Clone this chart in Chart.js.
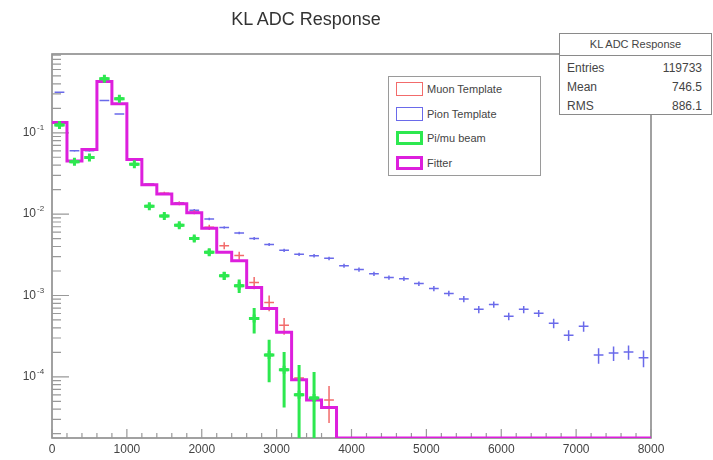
<!DOCTYPE html>
<html>
<head>
<meta charset="utf-8">
<title>KL ADC Response</title>
<script src="https://cdn.jsdelivr.net/npm/chart.js@4.4.1/dist/chart.umd.min.js"></script>
<style>
  html, body { margin: 0; padding: 0; background: #fff; }
  body { width: 713px; height: 460px; position: relative; overflow: hidden;
         font-family: 'Liberation Sans', Arial, Helvetica, sans-serif; color: #333; }
  #plot { position: absolute; left: 0; top: 0; }
  #title { position: absolute; left: 206px; top: 9px; width: 200px; text-align: center;
           font-size: 18px; color: #333; }
  #stats { position: absolute; left: 559px; top: 33px; width: 151px; height: 80px;
           border: 1px solid #8a8a8a; background: #fff; font-size: 12px; color: #444; }
  #stats .head { height: 21px; line-height: 20px; text-align: center; font-size: 11px;
                 border-bottom: 1px solid #8a8a8a; }
  #stats .row { display: flex; justify-content: space-between; padding: 0 9px 0 7px;
                height: 19px; line-height: 19px; }
  #legend { position: absolute; left: 388px; top: 76px; width: 151px; height: 98px;
            border: 1px solid #9a9a9a; background: #fff; font-size: 11px; color: #444; }
  #legend .item { position: relative; height: 24.5px; }
  #legend .sw { position: absolute; left: 7px; top: 5px; width: 27px; height: 14px; box-sizing: border-box; }
  #legend .lb { position: absolute; left: 38px; top: 0; line-height: 24px; }
</style>
</head>
<body>
<canvas id="plot" width="713" height="460"></canvas>
<div id="title">KL ADC Response</div>
<div id="legend"></div>
<div id="stats">
  <div class="head">KL ADC Response</div>
  <div class="row" style="margin-top:3px"><span>Entries</span><span>119733</span></div>
  <div class="row"><span>Mean</span><span>746.5</span></div>
  <div class="row"><span>RMS</span><span>886.1</span></div>
</div>
<script>
// 40 bins of 200 ADC counts, 0 - 8000
const BIN_CENTERS = [100, 300, 500, 700, 900, 1100, 1300, 1500, 1700, 1900,
  2100, 2300, 2500, 2700, 2900, 3100, 3300, 3500, 3700, 3900,
  4100, 4300, 4500, 4700, 4900, 5100, 5300, 5500, 5700, 5900,
  6100, 6300, 6500, 6700, 6900, 7100, 7300, 7500, 7700, 7900];
const BIN_HALF = 100;

// Fitter (step histogram)
const FITTER = [0.134, 0.045, 0.0625, 0.426, 0.227, 0.047, 0.023, 0.0177, 0.0134, 0.0104,
  0.0067, 0.0034, 0.00267, 0.00125, 0.00069, 0.000354, 0.000092, 0.000052, 0.000042, 0,
  0, 0, 0, 0, 0, 0, 0, 0, 0, 0,
  0, 0, 0, 0, 0, 0, 0, 0, 0, 0];

// Muon Template
const MUON = [0.13, 0.045, 0.062, 0.43, 0.225, 0.047, 0.0232, 0.018, 0.0136, 0.0106,
  0.0069, 0.0041, 0.0031, 0.00144, 0.00082, 0.00043, 0.000097, 0.000055, 0.000052, 0,
  0, 0, 0, 0, 0, 0, 0, 0, 0, 0,
  0, 0, 0, 0, 0, 0, 0, 0, 0, 0];
const MUON_ERR = [0.003, 0.0015, 0.0017, 0.005, 0.004, 0.0015, 0.0009, 0.0008, 0.0007, 0.0006,
  0.0005, 0.0004, 0.00035, 0.00025, 0.00018, 0.0001, 0.00004, 0.000035, 0.000025, 0,
  0, 0, 0, 0, 0, 0, 0, 0, 0, 0,
  0, 0, 0, 0, 0, 0, 0, 0, 0, 0];

// Pion Template
const PION = [0.316, 0.06, 0.06, 0.25, 0.17, 0.046, 0.0235, 0.0178, 0.0138, 0.0112,
  0.0087, 0.00684, 0.00586, 0.00502, 0.00424, 0.00359, 0.00321, 0.00308, 0.00286, 0.00232,
  0.00208, 0.00185, 0.00166, 0.00161, 0.0014, 0.00122, 0.00106, 0.000906, 0.000675, 0.000776,
  0.000555, 0.000675, 0.000603, 0.000456, 0.000325, 0.000419, 0.000185, 0.000196, 0.000202, 0.000171];
const PION_ERR = [0.004, 0.0015, 0.0015, 0.004, 0.003, 0.0012, 0.0007, 0.0005, 0.0004, 0.0004,
  0.0003, 0.00025, 0.00022, 0.0002, 0.00018, 0.00016, 0.00015, 0.00015, 0.00014, 0.00013,
  0.00012, 0.00011, 0.0001, 0.0001, 0.00009, 0.00009, 0.00008, 0.00008, 0.00007, 0.00007,
  0.00006, 0.00007, 0.00006, 0.00006, 0.00005, 0.00006, 0.00004, 0.00004, 0.00004, 0.00004];

// Pi/mu beam
const BEAM = [0.125, 0.044, 0.0496, 0.46, 0.262, 0.041, 0.0125, 0.0095, 0.0073, 0.005,
  0.0034, 0.00175, 0.00132, 0.00052, 0.000186, 0.000122, 0.00006, 0.000055, 0, 0,
  0, 0, 0, 0, 0, 0, 0, 0, 0, 0,
  0, 0, 0, 0, 0, 0, 0, 0, 0, 0];
const BEAM_ERR = [0.004, 0.0015, 0.0016, 0.01, 0.007, 0.0012, 0.0007, 0.0006, 0.0005, 0.0004,
  0.0003, 0.0002, 0.00025, 0.00018, 0.0001, 0.00008, 0.00008, 0.00006, 0, 0,
  0, 0, 0, 0, 0, 0, 0, 0, 0, 0,
  0, 0, 0, 0, 0, 0, 0, 0, 0, 0];

const X_TICKS = [0, 1000, 2000, 3000, 4000, 5000, 6000, 7000, 8000];
const Y_DECADES = [1e-4, 1e-3, 1e-2, 1e-1];
const Y_EXPONENTS = ['-4', '-3', '-2', '-1'];
const Y_MIN = 1.77e-5;
const Y_MAX = 0.93;

const SERIES = [
  { label: 'Muon Template', color: '#f26b6b', width: 1.5 },
  { label: 'Pion Template', color: '#6a6aea', width: 1.5 },
  { label: 'Pi/mu beam', color: '#2de84f', width: 3 },
  { label: 'Fitter', color: '#dd1fdd', width: 3 }
];

// step outline of a histogram, empty bins sit on the bottom of the frame
function stepLine(values) {
  const pts = [];
  values.forEach((v, i) => {
    const y = v > 0 ? v : Y_MIN;
    pts.push({ x: BIN_CENTERS[i] - BIN_HALF, y }, { x: BIN_CENTERS[i] + BIN_HALF, y });
  });
  return pts;
}

// crosses: horizontal bar plus vertical error, separated by gaps
function errorBars(values, errors, half) {
  const pts = [];
  values.forEach((v, i) => {
    if (v <= 0) return;
    const c = BIN_CENTERS[i];
    const lo = Math.max(v - errors[i], Y_MIN);
    pts.push({ x: c - half, y: v }, { x: c + half, y: v }, { x: c, y: null });
    pts.push({ x: c, y: lo }, { x: c, y: v + errors[i] }, { x: c, y: null });
  });
  return pts;
}

// frame, ticks and labels in ROOT style
const rootAxes = {
  id: 'rootAxes',
  beforeDatasetsDraw(chart) {
    const { ctx, chartArea: a, scales: { x, y } } = chart;
    ctx.save();
    ctx.strokeStyle = '#8a8a8a';
    ctx.lineWidth = 1.6;
    ctx.strokeRect(a.left, a.top, a.right - a.left, a.bottom - a.top);

    ctx.lineWidth = 1.2;
    ctx.strokeStyle = '#999';
    ctx.beginPath();
    for (let v = 0; v <= 8000; v += 200) {
      const px = x.getPixelForValue(v);
      const len = v % 1000 === 0 ? 9 : 5;
      ctx.moveTo(px, a.bottom);
      ctx.lineTo(px, a.bottom - len);
    }
    for (let e = -5; e <= -1; e++) {
      for (let k = 1; k <= 9; k++) {
        const v = k * Math.pow(10, e);
        if (v < Y_MIN || v > Y_MAX) continue;
        const py = y.getPixelForValue(v);
        ctx.moveTo(a.left, py);
        ctx.lineTo(a.left + (k === 1 ? 17 : 9), py);
      }
    }
    ctx.stroke();

    ctx.fillStyle = '#444';
    ctx.font = "12px 'Liberation Sans', Arial, sans-serif";
    ctx.textAlign = 'center';
    ctx.textBaseline = 'top';
    X_TICKS.forEach(v => ctx.fillText(String(v), x.getPixelForValue(v), a.bottom + 6));

    ctx.textBaseline = 'middle';
    Y_DECADES.forEach((v, i) => {
      const py = y.getPixelForValue(v);
      ctx.font = "12px 'Liberation Sans', Arial, sans-serif";
      ctx.textAlign = 'right';
      ctx.fillText('10', a.left - 16, py);
      ctx.font = "8px 'Liberation Sans', Arial, sans-serif";
      ctx.textAlign = 'left';
      ctx.fillText(Y_EXPONENTS[i], a.left - 15, py - 5);
    });
    ctx.restore();
  }
};

new Chart(document.getElementById('plot'), {
  type: 'line',
  data: {
    datasets: [
      { label: SERIES[1].label, data: errorBars(PION, PION_ERR, 65), borderColor: SERIES[1].color,
        borderWidth: SERIES[1].width, pointRadius: 0, order: 5 },
      { label: SERIES[0].label, data: errorBars(MUON, MUON_ERR, 65), borderColor: SERIES[0].color,
        borderWidth: SERIES[0].width, pointRadius: 0, order: 4 },
      { label: SERIES[3].label, data: stepLine(FITTER), borderColor: SERIES[3].color,
        borderWidth: SERIES[3].width, pointRadius: 0, order: 3, borderJoinStyle: 'miter' },
      { label: SERIES[2].label, data: errorBars(BEAM, BEAM_ERR, 70), borderColor: SERIES[2].color,
        borderWidth: SERIES[2].width, pointRadius: 0, order: 2 },
      { label: SERIES[2].label + ' markers',
        data: BEAM.map((v, i) => ({ x: BIN_CENTERS[i], y: v > 0 ? v : null })),
        showLine: false, pointStyle: 'cross', pointRadius: 4, borderWidth: 3,
        borderColor: SERIES[2].color, order: 1 }
    ]
  },
  options: {
    responsive: false,
    animation: false,
    events: [],
    devicePixelRatio: 1,
    spanGaps: false,
    layout: { padding: { left: 52, right: 62, top: 54, bottom: 22 } },
    elements: { line: { tension: 0 } },
    scales: {
      x: { type: 'linear', min: 0, max: 8000, display: false },
      y: { type: 'logarithmic', min: Y_MIN, max: Y_MAX, display: false }
    },
    plugins: { legend: { display: false }, tooltip: { enabled: false }, title: { display: false } }
  },
  plugins: [rootAxes]
});

// legend box
document.getElementById('legend').innerHTML = SERIES.map(s =>
  `<div class="item"><span class="sw" style="border:${s.width}px solid ${s.color}"></span><span class="lb">${s.label}</span></div>`
).join('');
</script>
</body>
</html>
